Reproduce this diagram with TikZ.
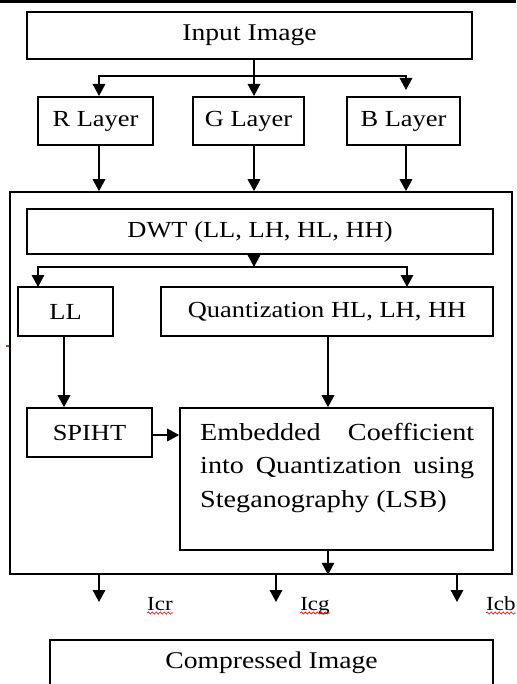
\documentclass[tikz,border=0pt]{standalone}
\usepackage{fontspec}
\setmainfont[FakeStretch=1.15]{Liberation Serif}
\usetikzlibrary{arrows.meta,decorations.pathmorphing}
\begin{document}
\begin{tikzpicture}[x=1pt,y=-1pt,
  box/.style={draw, line width=1.6pt, inner sep=0pt, font=\fontsize{23pt}{27pt}\selectfont},
  ln/.style={line width=1.6pt},
  arr/.style={line width=1.6pt, -{Triangle[width=12.5pt,length=12pt]}},
  sml/.style={inner sep=0pt, font=\fontsize{20pt}{24pt}\selectfont},
  wavy/.style={red, line width=0.6pt, decorate, decoration={snake, segment length=4pt, amplitude=1.1pt}}]
\useasboundingbox (0,0) rectangle (516,684);
\fill (0,0) rectangle (516,3);
% boxes
\node[box, minimum width=445pt, minimum height=47pt, font=\fontsize{24pt}{28pt}\selectfont] (in) at (249.5,35.5) {Input Image};
\node[box, minimum width=115pt, minimum height=48pt] (R) at (95.5,121) {R Layer};
\node[box, minimum width=111pt, minimum height=48pt] (G) at (248.5,121) {G Layer};
\node[box, minimum width=113pt, minimum height=48pt] (B) at (403.5,121) {B Layer};
\node[box, minimum width=502pt, minimum height=382pt] (big) at (261,383) {};
\node[box, minimum width=466pt, minimum height=45pt] (dwt) at (260,231.5) {DWT (LL, LH, HL, HH)};
\node[box, minimum width=95pt, minimum height=49pt] (LL) at (65.5,311.5) {LL};
\node[box, minimum width=332pt, minimum height=49pt] (Q) at (327,311.5) {Quantization HL, LH, HH};
\node[box, minimum width=125pt, minimum height=49pt] (SP) at (89.5,432.5) {SPIHT};
\node[box, minimum width=313pt, minimum height=142pt] (emb) at (336.5,479) {};
\node[inner sep=0pt, text width=274pt, align=justify, anchor=north west,
      font=\fontsize{24.5pt}{33.5pt}\selectfont] (embtxt) at (200,423)
  {Embedded Coefficient\linebreak into Quantization using\linebreak Steganography (LSB)};
\node[box, minimum width=443pt, minimum height=72pt, anchor=north] (comp) at (271.5,639) {};
\node[inner sep=0pt, font=\fontsize{24pt}{28pt}\selectfont] (comptxt) at (271.5,663) {Compressed Image};
% coordinates
\coordinate (jc) at (254,76);
\coordinate (xR) at (99,0);
\coordinate (xG) at (254,0);
\coordinate (xB) at (406,0);
\coordinate (Rin) at (99,96);
\coordinate (Gin) at (254,96);
\coordinate (Bin) at (406,90);
\coordinate (jb) at (254,267);
\coordinate (llin) at (38,287);
\coordinate (qin) at (407,287);
\coordinate (xl) at (64,0);
\coordinate (xq) at (328,0);
\coordinate (o1) at (99,602);
\coordinate (o2) at (276,602);
\coordinate (o3) at (457,602);
% connectors
\draw[arr] (in.south -| jc) -- (Gin);
\draw[arr] (jc) -| (Rin);
\draw[arr] (jc) -| (Bin);
\draw[arr] (R.south -| xR) -- (big.north -| xR);
\draw[arr] (G.south -| xG) -- (big.north -| xG);
\draw[arr] (B.south -| xB) -- (big.north -| xB);
\draw[arr] (dwt.south -| jb) -- (jb);
\draw[arr] (jb) -| (llin);
\draw[arr] (jb) -| (qin);
\draw[arr] (LL.south -| xl) -- (SP.north -| xl);
\draw[arr] (Q.south -| xq) -- (emb.north -| xq);
\draw[arr] (SP.east |- 0,435) -- (emb.west |- 0,435);
\draw[arr] (emb.south -| xq) -- (big.south -| xq);
\draw[arr] (big.south -| o1) -- (o1);
\draw[arr] (big.south -| o2) -- (o2);
\draw[arr] (big.south -| o3) -- (o3);
% labels
\node[sml, anchor=base] (Icr) at (160,610) {Icr};
\node[sml, anchor=base] (Icg) at (315,610) {Icg};
\node[sml, anchor=base west] (Icb) at (486,610) {Icb};
\draw[wavy] ([yshift=-3pt]Icr.base west) -- ([yshift=-3pt]Icr.base east);
\draw[wavy] ([yshift=-3pt]Icg.base west) -- ([yshift=-3pt]Icg.base east);
\draw[wavy] ([yshift=-3pt]Icb.base west) -- ([yshift=-3pt]Icb.base east);
% stray mark
\coordinate (t1) at (6,346);
\coordinate (t2) at (9,346);
\draw[line width=1.2pt, brown!70!black] (t1) -- (t2);
\end{tikzpicture}
\end{document}
